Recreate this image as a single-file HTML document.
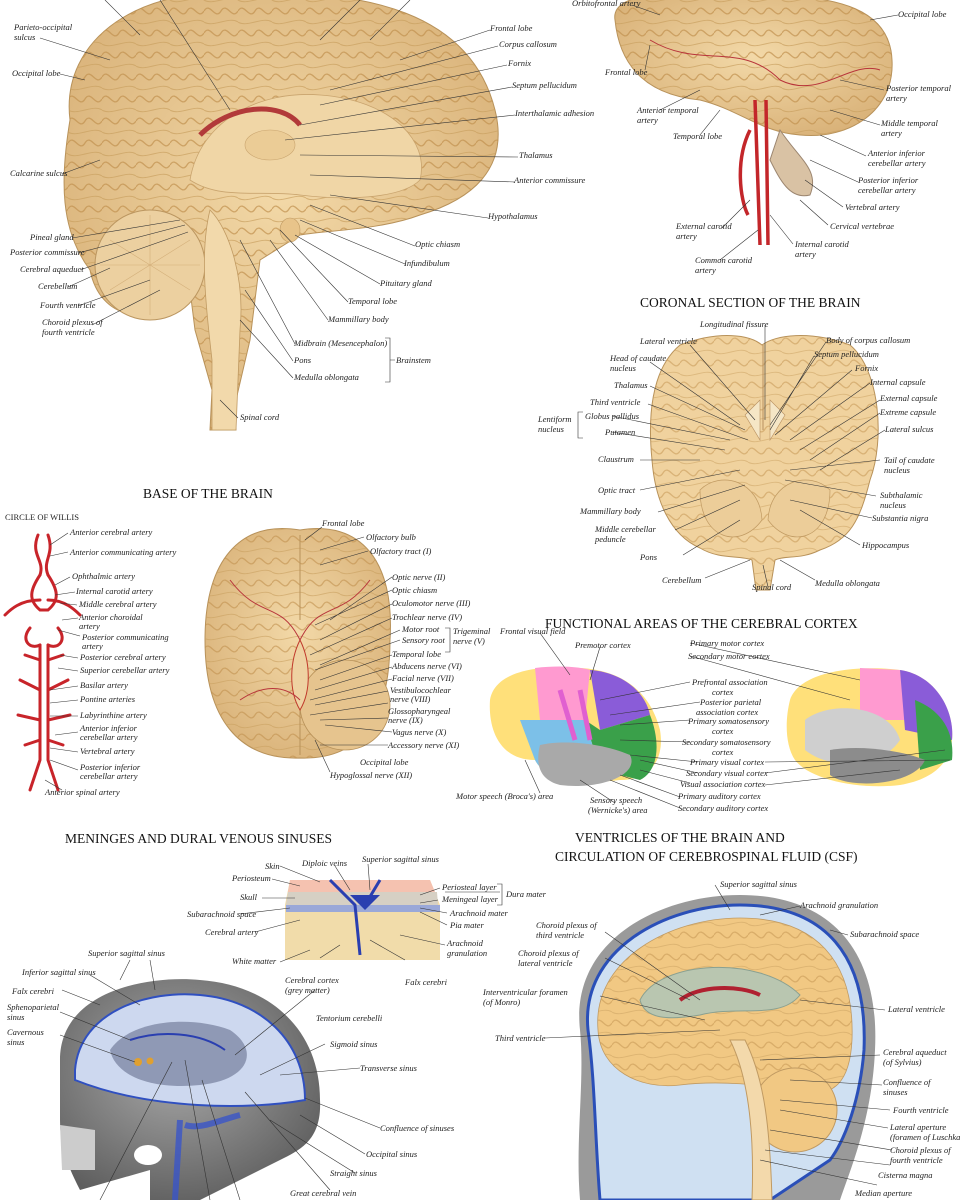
<!DOCTYPE html>
<html><head><meta charset="utf-8">
<style>
html,body{margin:0;padding:0;background:#fff}
svg{display:block}
.l{font-family:"Liberation Serif",serif;font-style:italic;font-size:8.5px;fill:#222}
.h{font-family:"Liberation Serif",serif;font-size:13.5px;fill:#111}
.ln{stroke:#333;stroke-width:0.6;fill:none}
</style></head><body>
<svg width="960" height="1200" viewBox="0 0 960 1200" xmlns="http://www.w3.org/2000/svg">
<rect width="960" height="1200" fill="#fff"/>
<defs>
<radialGradient id="tan" cx="50%" cy="45%" r="60%"><stop offset="0" stop-color="#f3d9a8"/><stop offset="1" stop-color="#d9b279"/></radialGradient>
<radialGradient id="gr" cx="45%" cy="40%" r="65%"><stop offset="0" stop-color="#a9a9a9"/><stop offset="1" stop-color="#5e5e5e"/></radialGradient>
<pattern id="gy" width="34" height="22" patternUnits="userSpaceOnUse">
<path d="M0,11 C6,1 11,21 17,11 C23,1 28,21 34,11" stroke="#c1914f" stroke-width="1.3" fill="none"/>
<path d="M0,0 C9,6 25,-6 34,0 M0,22 C9,28 25,16 34,22" stroke="#c9a060" stroke-width="1" fill="none"/>
</pattern>
</defs>

<!-- ===== Sagittal brain top-left ===== -->
<path d="M70,120 C60,40 140,-20 260,-5 C360,-10 470,10 495,110 C510,170 470,200 420,215 C380,230 330,230 300,235 L260,260 L250,340 L236,400 L236,430 L210,430 L212,390 L195,330 L190,290 C150,330 100,320 90,270 C60,230 60,180 70,120 Z" fill="url(#tan)" stroke="#b8925a" stroke-width="1"/>
<path d="M70,120 C60,40 140,-20 260,-5 C360,-10 470,10 495,110 C510,170 470,200 420,215 C380,230 330,230 300,235 L260,260 L250,340 L236,400 L236,430 L210,430 L212,390 L195,330 L190,290 C150,330 100,320 90,270 C60,230 60,180 70,120 Z" fill="url(#gy)" opacity="0.7"/>
<path d="M190,180 C200,120 260,90 320,95 C390,100 430,140 420,180 C400,200 340,200 300,195 C260,190 220,200 190,180Z" fill="#f0d6a6" stroke="#c9a46e" stroke-width="0.8"/>
<path d="M200,135 C230,105 280,100 300,125" stroke="#b23a3a" stroke-width="5" fill="none"/>
<ellipse cx="270" cy="145" rx="25" ry="15" fill="#ebcc96" stroke="#c9a46e" stroke-width="0.6"/>
<circle cx="150" cy="265" r="55" fill="#ecd0a0" stroke="#bb9660" stroke-width="1"/>
<path d="M100,265 L200,265 M110,240 L190,290 M110,290 L190,240 M150,215 L150,315" stroke="#d4b07b" stroke-width="0.6"/>
<path d="M210,210 C230,230 245,280 240,330 L236,430 L212,430 L212,360 C205,300 200,250 210,210Z" fill="#f2d9ab" stroke="#c09a62" stroke-width="0.8"/>
<ellipse cx="290" cy="230" rx="10" ry="12" fill="#e8c48a" stroke="#c09a62" stroke-width="0.6"/>
<g class="ln">
<path d="M105,0 L140,35 M160,0 L230,110 M360,0 L320,40 M410,0 L370,40"/>
<path d="M490,30 L400,60 M498,46 L330,90 M507,65 L320,105 M512,87 L300,125 M515,115 L285,140 M518,157 L300,155 M515,182 L310,175 M488,218 L330,195 M415,246 L310,205 M405,264 L300,220 M380,284 L295,235 M348,302 L280,230 M328,320 L270,240 M295,344 L240,240 M293,361 L245,290 M293,378 L240,320 M238,418 L220,400"/>
<path d="M385,338 L390,338 L390,382 L385,382 M390,360 L395,360"/>
<path d="M40,38 L110,60 M60,74 L85,80 M62,174 L100,160 M72,238 L180,220 M78,253 L185,225 M80,270 L188,232 M68,287 L110,268 M78,306 L150,280 M92,325 L160,290"/>
</g>
<text class="l" x="14" y="30">Parieto-occipital</text><text class="l" x="14" y="40">sulcus</text>
<text class="l" x="12" y="76">Occipital lobe</text>
<text class="l" x="10" y="176">Calcarine sulcus</text>
<text class="l" x="30" y="240">Pineal gland</text>
<text class="l" x="10" y="255">Posterior commissure</text>
<text class="l" x="20" y="272">Cerebral aqueduct</text>
<text class="l" x="38" y="289">Cerebellum</text>
<text class="l" x="40" y="308">Fourth ventricle</text>
<text class="l" x="42" y="325">Choroid plexus of</text><text class="l" x="42" y="335">fourth ventricle</text>
<text class="l" x="490" y="31">Frontal lobe</text>
<text class="l" x="499" y="47">Corpus callosum</text>
<text class="l" x="508" y="66">Fornix</text>
<text class="l" x="512" y="88">Septum pellucidum</text>
<text class="l" x="515" y="116">Interthalamic adhesion</text>
<text class="l" x="519" y="158">Thalamus</text>
<text class="l" x="514" y="183">Anterior commissure</text>
<text class="l" x="488" y="219">Hypothalamus</text>
<text class="l" x="415" y="247">Optic chiasm</text>
<text class="l" x="404" y="266">Infundibulum</text>
<text class="l" x="380" y="286">Pituitary gland</text>
<text class="l" x="348" y="304">Temporal lobe</text>
<text class="l" x="328" y="322">Mammillary body</text>
<text class="l" x="294" y="346">Midbrain (Mesencephalon)</text>
<text class="l" x="294" y="363">Pons</text>
<text class="l" x="294" y="380">Medulla oblongata</text>
<text class="l" x="396" y="363">Brainstem</text>
<text class="l" x="240" y="420">Spinal cord</text>

<!-- ===== Lateral brain top-right ===== -->
<path d="M615,20 C610,-10 680,-10 760,-5 C840,-5 890,10 892,60 C895,110 850,140 800,135 C760,132 740,110 700,100 C650,95 620,70 615,20Z" fill="url(#tan)" stroke="#b8925a"/>
<path d="M615,20 C610,-10 680,-10 760,-5 C840,-5 890,10 892,60 C895,110 850,140 800,135 C760,132 740,110 700,100 C650,95 620,70 615,20Z" fill="url(#gy)" opacity="0.7"/>
<path d="M780,130 C800,160 820,170 810,195 C790,200 780,180 770,160Z" fill="#d9c2a4" stroke="#9c8670"/>
<path d="M755,100 L760,245 M766,100 L768,245 M750,130 C735,160 740,200 748,215" stroke="#c3262a" stroke-width="3.5" fill="none"/>
<path d="M650,40 C700,70 740,40 780,80 C820,100 850,60 880,70" stroke="#b8343a" stroke-width="1" fill="none"/>
<g class="ln">
<path d="M632,5 L660,15 M645,70 L650,45 M660,110 L700,90 M700,135 L720,110 M898,15 L870,20 M884,90 L840,80 M880,125 L830,110 M866,156 L820,135 M858,182 L810,160 M843,207 L805,180 M828,225 L800,200 M793,244 L770,215 M722,228 L750,200 M720,260 L758,230"/>
</g>
<text class="l" x="572" y="6">Orbitofrontal artery</text>
<text class="l" x="605" y="75">Frontal lobe</text>
<text class="l" x="637" y="113">Anterior temporal</text><text class="l" x="637" y="123">artery</text>
<text class="l" x="673" y="139">Temporal lobe</text>
<text class="l" x="898" y="17">Occipital lobe</text>
<text class="l" x="886" y="91">Posterior temporal</text><text class="l" x="886" y="101">artery</text>
<text class="l" x="881" y="126">Middle temporal</text><text class="l" x="881" y="136">artery</text>
<text class="l" x="868" y="156">Anterior inferior</text><text class="l" x="868" y="166">cerebellar artery</text>
<text class="l" x="858" y="183">Posterior inferior</text><text class="l" x="858" y="193">cerebellar artery</text>
<text class="l" x="845" y="210">Vertebral artery</text>
<text class="l" x="830" y="229">Cervical vertebrae</text>
<text class="l" x="795" y="247">Internal carotid</text><text class="l" x="795" y="257">artery</text>
<text class="l" x="676" y="229">External carotid</text><text class="l" x="676" y="239">artery</text>
<text class="l" x="695" y="263">Common carotid</text><text class="l" x="695" y="273">artery</text>

<!-- ===== Coronal section ===== -->
<text class="h" x="640" y="307">CORONAL SECTION OF THE BRAIN</text>
<path d="M680,345 C720,330 750,335 762,345 C775,335 810,330 850,345 C880,370 885,440 870,480 C860,520 850,540 820,550 C800,560 785,555 775,560 L770,590 L756,590 L752,560 C740,555 720,560 700,548 C670,535 655,500 652,460 C648,420 650,370 680,345Z" fill="#f0d29e" stroke="#b8925a"/>
<path d="M680,345 C720,330 750,335 762,345 C775,335 810,330 850,345 C880,370 885,440 870,480 C860,520 850,540 820,550 C800,560 785,555 775,560 L770,590 L756,590 L752,560 C740,555 720,560 700,548 C670,535 655,500 652,460 C648,420 650,370 680,345Z" fill="url(#gy)" opacity="0.5"/>
<path d="M700,490 C720,470 760,480 762,520 C740,550 700,540 700,490Z M830,490 C810,470 770,480 768,520 C790,550 830,540 830,490Z" fill="#eccd99" stroke="#c09a62" stroke-width="0.7"/>
<path d="M763,345 L763,430" stroke="#b89060" stroke-width="1"/>
<path d="M745,415 L760,400 L760,440 Z M785,415 L770,400 L770,440 Z" fill="#f5e6c6" stroke="#b89060" stroke-width="0.6"/>
<g class="ln">
<path d="M690,345 L755,420 M650,362 L740,425 M650,386 L745,430 M648,404 L748,440 M612,416 L730,440 M612,432 L725,450 M640,460 L700,460 M640,490 L740,470 M658,512 L745,485 M675,530 L740,500 M683,555 L740,520 M705,578 L750,560 M768,587 L763,565"/>
<path d="M765,325 L765,420 M826,342 L770,425 M814,356 L770,430 M852,370 L775,435 M870,383 L790,440 M880,400 L800,450 M880,413 L810,460 M885,430 L820,470 M880,460 L790,470 M876,496 L785,480 M872,518 L790,500 M860,545 L800,510 M815,580 L780,560"/>
<path d="M583,412 L578,412 L578,438 L583,438"/>
</g>
<text class="l" x="700" y="327">Longitudinal fissure</text>
<text class="l" x="640" y="344">Lateral ventricle</text>
<text class="l" x="610" y="361">Head of caudate</text><text class="l" x="610" y="371">nucleus</text>
<text class="l" x="614" y="388">Thalamus</text>
<text class="l" x="590" y="405">Third ventricle</text>
<text class="l" x="585" y="419">Globus pallidus</text>
<text class="l" x="605" y="435">Putamen</text>
<text class="l" x="538" y="422">Lentiform</text><text class="l" x="538" y="432">nucleus</text>
<text class="l" x="598" y="462">Claustrum</text>
<text class="l" x="598" y="493">Optic tract</text>
<text class="l" x="580" y="514">Mammillary body</text>
<text class="l" x="595" y="532">Middle cerebellar</text><text class="l" x="595" y="542">peduncle</text>
<text class="l" x="640" y="560">Pons</text>
<text class="l" x="662" y="583">Cerebellum</text>
<text class="l" x="752" y="590">Spinal cord</text>
<text class="l" x="826" y="343">Body of corpus callosum</text>
<text class="l" x="814" y="357">Septum pellucidum</text>
<text class="l" x="855" y="371">Fornix</text>
<text class="l" x="870" y="385">Internal capsule</text>
<text class="l" x="880" y="401">External capsule</text>
<text class="l" x="880" y="415">Extreme capsule</text>
<text class="l" x="885" y="432">Lateral sulcus</text>
<text class="l" x="884" y="463">Tail of caudate</text><text class="l" x="884" y="473">nucleus</text>
<text class="l" x="880" y="498">Subthalamic</text><text class="l" x="880" y="508">nucleus</text>
<text class="l" x="872" y="521">Substantia nigra</text>
<text class="l" x="862" y="548">Hippocampus</text>
<text class="l" x="815" y="586">Medulla oblongata</text>

<!-- ===== Base of brain ===== -->
<text class="h" x="143" y="498">BASE OF THE BRAIN</text>
<text class="l" x="5" y="520" style="font-style:normal">CIRCLE OF WILLIS</text>
<path d="M300,530 C360,520 395,560 390,640 C390,720 360,760 300,758 C240,760 205,720 205,640 C205,560 240,520 300,530Z" fill="url(#tan)" stroke="#b8925a"/>
<path d="M300,530 C360,520 395,560 390,640 C390,720 360,760 300,758 C240,760 205,720 205,640 C205,560 240,520 300,530Z" fill="url(#gy)" opacity="0.6"/>
<circle cx="345" cy="705" r="45" fill="#e6c48e" stroke="#b8925a" stroke-width="0.8"/>
<path d="M300,535 L300,620 M300,640 L300,755" stroke="#b8925a" stroke-width="1"/>
<path d="M300,640 C290,660 288,690 300,710 C312,690 310,660 300,640Z" fill="#eed2a2" stroke="#c0392b" stroke-width="1"/>
<path d="M230,580 C260,620 280,600 300,640 C320,600 340,620 370,580 M240,700 C270,680 290,690 300,700" stroke="#b8343a" stroke-width="1" fill="none"/>
<g class="ln">
<path d="M322,527 L305,540 M364,537 L320,550 M368,551 L320,565 M392,577 L330,620 M392,590 L315,625 M392,604 L320,640 M392,618 L310,655 M400,630 L320,665 M400,640 L315,670 M392,655 L320,680 M392,667 L315,690 M392,679 L310,700 M388,691 L315,705 M388,703 L310,715 M388,718 L320,720 M392,732 L325,725 M388,745 L320,745 M330,772 L315,740 M445,628 L450,628 L450,652 L445,652"/>
</g>
<text class="l" x="322" y="526">Frontal lobe</text>
<text class="l" x="366" y="540">Olfactory bulb</text>
<text class="l" x="370" y="554">Olfactory tract (I)</text>
<text class="l" x="392" y="580">Optic nerve (II)</text>
<text class="l" x="392" y="593">Optic chiasm</text>
<text class="l" x="392" y="606">Oculomotor nerve (III)</text>
<text class="l" x="392" y="620">Trochlear nerve (IV)</text>
<text class="l" x="402" y="632">Motor root</text>
<text class="l" x="402" y="643">Sensory root</text>
<text class="l" x="453" y="634">Trigeminal</text><text class="l" x="453" y="644">nerve (V)</text>
<text class="l" x="392" y="657">Temporal lobe</text>
<text class="l" x="392" y="669">Abducens nerve (VI)</text>
<text class="l" x="392" y="681">Facial nerve (VII)</text>
<text class="l" x="390" y="693">Vestibulocochlear</text><text class="l" x="390" y="702">nerve (VIII)</text>
<text class="l" x="388" y="714">Glossopharyngeal</text><text class="l" x="388" y="723">nerve (IX)</text>
<text class="l" x="392" y="735">Vagus nerve (X)</text>
<text class="l" x="388" y="748">Accessory nerve (XI)</text>
<text class="l" x="360" y="765">Occipital lobe</text>
<text class="l" x="330" y="778">Hypoglossal nerve (XII)</text>

<!-- Circle of Willis -->
<g stroke="#c8242a" stroke-width="3" fill="none" stroke-linecap="round">
<path d="M38,535 C30,555 45,560 40,575 M48,535 C55,555 42,560 48,575"/>
<path d="M40,575 C30,590 28,600 40,610 L48,610 C60,600 58,590 48,575"/>
<path d="M40,600 C20,600 10,610 5,615 M48,600 C65,600 75,610 80,615"/>
<path d="M30,628 C20,640 30,650 40,645 M58,628 C68,640 58,650 48,645"/>
<path d="M40,645 L40,760 M48,645 L48,760 M40,760 L30,790 M48,760 L58,790"/>
<path d="M40,690 L20,680 M48,690 L68,680 M40,720 L18,715 M48,720 L70,715 M40,740 L25,745 M48,740 L63,745 M40,660 L25,655 M48,660 L63,655"/>
</g>
<g class="ln">
<path d="M68,533 L50,545 M68,552 L50,556 M70,577 L55,585 M75,592 L55,595 M77,605 L60,603 M78,618 L62,620 M80,636 L58,630 M78,658 L60,655 M78,671 L58,668 M78,686 L50,690 M78,700 L50,703 M78,716 L50,716 M78,732 L55,735 M78,752 L50,748 M78,770 L50,760 M62,790 L45,780"/>
</g>
<text class="l" x="70" y="535">Anterior cerebral artery</text>
<text class="l" x="70" y="555">Anterior communicating artery</text>
<text class="l" x="72" y="579">Ophthalmic artery</text>
<text class="l" x="76" y="594">Internal carotid artery</text>
<text class="l" x="79" y="607">Middle cerebral artery</text>
<text class="l" x="79" y="620">Anterior choroidal</text><text class="l" x="79" y="629">artery</text>
<text class="l" x="82" y="640">Posterior communicating</text><text class="l" x="82" y="649">artery</text>
<text class="l" x="80" y="660">Posterior cerebral artery</text>
<text class="l" x="80" y="673">Superior cerebellar artery</text>
<text class="l" x="80" y="688">Basilar artery</text>
<text class="l" x="80" y="702">Pontine arteries</text>
<text class="l" x="80" y="718">Labyrinthine artery</text>
<text class="l" x="80" y="731">Anterior inferior</text><text class="l" x="80" y="740">cerebellar artery</text>
<text class="l" x="80" y="754">Vertebral artery</text>
<text class="l" x="80" y="770">Posterior inferior</text><text class="l" x="80" y="779">cerebellar artery</text>
<text class="l" x="45" y="795">Anterior spinal artery</text>

<!-- ===== Functional areas ===== -->
<text class="h" x="545" y="628">FUNCTIONAL AREAS OF THE CEREBRAL CORTEX</text>
<path d="M490,700 C495,670 540,665 580,668 C620,670 650,690 660,730 C665,760 650,780 620,780 C580,785 545,780 535,760 C500,760 488,730 490,700Z" fill="#ffe07a"/>
<path d="M535,668 C560,665 580,667 590,670 L585,720 L540,720Z" fill="#ff9ad0"/>
<path d="M590,670 C620,672 645,690 650,715 L600,730 Z" fill="#8a5cd8"/>
<path d="M585,720 L600,730 L650,715 C660,740 660,770 640,780 L600,770 Z" fill="#3aa04a"/>
<path d="M520,720 L585,720 L600,770 C580,785 545,780 535,760 Z" fill="#7cc0e8"/>
<path d="M540,745 C560,740 600,742 630,755 C640,775 600,790 560,785 C540,780 535,765 540,745Z" fill="#a9a9a9"/>
<path d="M560,690 L575,740 M580,690 L590,740" stroke="#e060d0" stroke-width="5"/>
<path d="M790,700 C800,670 860,665 900,670 C935,675 955,710 952,740 C950,765 930,780 900,785 C860,790 810,780 795,760 C785,745 785,720 790,700Z" fill="#ffe07a"/>
<path d="M860,668 L900,670 L905,720 L860,720Z" fill="#ff9ad0"/>
<path d="M900,670 C935,675 955,710 952,740 L905,730Z" fill="#8a5cd8"/>
<path d="M915,700 C940,710 955,730 952,760 L920,770 Z" fill="#3aa04a"/>
<path d="M805,720 C830,700 890,705 900,740 C880,770 830,770 805,750Z" fill="#cfcfcf"/>
<path d="M830,750 C860,745 900,750 925,760 C915,785 850,790 830,775Z" fill="#8c8c8c"/>
<g class="ln">
<path d="M540,633 L570,675 M600,647 L590,680 M690,643 L860,680 M690,656 L850,700 M690,682 L600,700 M700,702 L610,715 M690,720 L620,725 M690,742 L620,740 M698,762 L630,755 M698,773 L640,760 M690,783 L640,770 M680,797 L620,775 M680,808 L610,780 M615,803 L580,780 M540,793 L525,760 M765,762 L950,760 M765,773 L945,750 M765,785 L900,770"/>
</g>
<text class="l" x="575" y="648">Premotor cortex</text>
<text class="l" x="500" y="634">Frontal visual field</text>
<text class="l" x="690" y="646">Primary motor cortex</text>
<text class="l" x="688" y="659">Secondary motor cortex</text>
<text class="l" x="692" y="685">Prefrontal association</text><text class="l" x="712" y="695">cortex</text>
<text class="l" x="700" y="705">Posterior parietal</text><text class="l" x="696" y="715">association cortex</text>
<text class="l" x="688" y="724">Primary somatosensory</text><text class="l" x="712" y="734">cortex</text>
<text class="l" x="682" y="745">Secondary somatosensory</text><text class="l" x="712" y="755">cortex</text>
<text class="l" x="690" y="765">Primary visual cortex</text>
<text class="l" x="686" y="776">Secondary visual cortex</text>
<text class="l" x="680" y="787">Visual association cortex</text>
<text class="l" x="678" y="799">Primary auditory cortex</text>
<text class="l" x="678" y="811">Secondary auditory cortex</text>
<text class="l" x="590" y="803">Sensory speech</text><text class="l" x="588" y="813">(Wernicke's) area</text>
<text class="l" x="456" y="799">Motor speech (Broca's) area</text>

<!-- ===== Meninges ===== -->
<text class="h" x="65" y="843">MENINGES AND DURAL VENOUS SINUSES</text>
<path d="M290,880 L430,880 L440,905 L440,960 L285,960 L285,905Z" fill="#f1dcaa"/>
<path d="M290,880 L430,880 L435,892 L288,892Z" fill="#f5c2b0"/>
<path d="M288,892 L437,892 L438,905 L286,905Z" fill="#d6d0c4"/>
<path d="M286,905 L440,905 L440,912 L286,912Z" fill="#9aa8d8"/>
<path d="M330,880 L355,905 L360,955 M380,880 L365,905" stroke="#2a3fb0" stroke-width="3" fill="none"/>
<path d="M350,895 L380,895 L365,910Z" fill="#2a3fb0"/>
<g class="ln">
<path d="M280,866 L320,882 M272,879 L300,886 M262,898 L295,898 M240,914 L290,908 M255,932 L300,920 M280,962 L310,950 M320,958 L340,945 M335,866 L350,890 M368,864 L370,890 M440,888 L420,895 M438,900 L420,903 M447,913 L420,908 M447,925 L420,912 M445,945 L400,935 M405,960 L370,940 M445,892 L500,892"/>
<path d="M497,884 L502,884 L502,905 L497,905"/>
</g>
<text class="l" x="265" y="869">Skin</text>
<text class="l" x="232" y="881">Periosteum</text>
<text class="l" x="240" y="900">Skull</text>
<text class="l" x="187" y="917">Subarachnoid space</text>
<text class="l" x="205" y="935">Cerebral artery</text>
<text class="l" x="232" y="964">White matter</text>
<text class="l" x="285" y="983">Cerebral cortex</text><text class="l" x="285" y="993">(grey matter)</text>
<text class="l" x="405" y="985">Falx cerebri</text>
<text class="l" x="302" y="866">Diploic veins</text>
<text class="l" x="362" y="862">Superior sagittal sinus</text>
<text class="l" x="442" y="890">Periosteal layer</text>
<text class="l" x="442" y="902">Meningeal layer</text>
<text class="l" x="506" y="897">Dura mater</text>
<text class="l" x="450" y="916">Arachnoid mater</text>
<text class="l" x="450" y="928">Pia mater</text>
<text class="l" x="447" y="946">Arachnoid</text><text class="l" x="447" y="956">granulation</text>

<!-- skull -->
<path d="M60,1060 C60,990 150,975 200,980 C270,985 320,1030 320,1100 C322,1140 300,1150 280,1160 L240,1180 L200,1200 L150,1200 L150,1170 L80,1190 C70,1170 60,1150 60,1120 Z" fill="url(#gr)"/>
<path d="M75,1070 C80,1010 150,990 200,995 C260,1000 305,1040 305,1100 C250,1110 150,1110 75,1080Z" fill="#cdd8ef" stroke="#3050c0" stroke-width="2"/>
<path d="M110,1050 C130,1020 190,1015 230,1030 C260,1050 250,1080 200,1085 C150,1090 115,1075 110,1050Z" fill="#8f99b5"/>
<path d="M130,1040 C160,1030 200,1032 225,1050" stroke="#2a3fb0" stroke-width="2" fill="none"/>
<path d="M180,1120 L175,1200 M185,1125 C200,1130 220,1120 240,1115" stroke="#3a55c8" stroke-width="6" fill="none" opacity="0.8"/>
<ellipse cx="148" cy="1155" rx="14" ry="10" fill="#fff"/>
<path d="M60,1125 L95,1130 L95,1170 L62,1170Z" fill="#ccc"/>
<circle cx="138" cy="1062" r="4" fill="#e0a030"/><circle cx="150" cy="1061" r="3.5" fill="#e0a030"/>
<g class="ln">
<path d="M90,975 L140,1005 M62,990 L100,1005 M60,1012 L130,1040 M60,1035 L135,1062 M150,960 L155,990 M130,960 L120,980 M315,990 L235,1055 M325,1044 L260,1075 M360,1068 L280,1075 M380,1128 L305,1098 M365,1154 L300,1115 M355,1173 L270,1120 M330,1190 L245,1092 M172,1062 L100,1200 M185,1060 L210,1200 M202,1080 L240,1200"/>
</g>
<text class="l" x="88" y="956">Superior sagittal sinus</text>
<text class="l" x="22" y="975">Inferior sagittal sinus</text>
<text class="l" x="12" y="994">Falx cerebri</text>
<text class="l" x="7" y="1010">Sphenoparietal</text><text class="l" x="7" y="1020">sinus</text>
<text class="l" x="7" y="1035">Cavernous</text><text class="l" x="7" y="1045">sinus</text>
<text class="l" x="316" y="1021">Tentorium cerebelli</text>
<text class="l" x="330" y="1047">Sigmoid sinus</text>
<text class="l" x="360" y="1071">Transverse sinus</text>
<text class="l" x="380" y="1131">Confluence of sinuses</text>
<text class="l" x="366" y="1157">Occipital sinus</text>
<text class="l" x="330" y="1176">Straight sinus</text>
<text class="l" x="290" y="1196">Great cerebral vein</text>

<!-- ===== Ventricles ===== -->
<text class="h" x="575" y="842">VENTRICLES OF THE BRAIN AND</text>
<text class="h" x="555" y="861">CIRCULATION OF CEREBROSPINAL FLUID (CSF)</text>
<path d="M580,1030 C570,940 660,895 740,895 C830,895 880,950 875,1050 C872,1120 850,1170 840,1200 L580,1200 C575,1140 585,1080 580,1030Z" fill="#9a9a9a"/>
<path d="M588,1030 C580,950 665,905 740,905 C825,905 868,955 864,1050 C860,1100 845,1140 830,1160 L770,1200 L600,1200 C595,1140 595,1080 588,1030Z" fill="#cfe0f2" stroke="#2a4fb8" stroke-width="3"/>
<path d="M598,1030 C592,960 670,918 740,918 C815,918 855,960 852,1040 C850,1080 835,1100 800,1090 C760,1085 720,1080 680,1085 C640,1090 600,1070 598,1030Z" fill="#f1c883" stroke="#c09a62" stroke-width="0.8"/>
<path d="M598,1030 C592,960 670,918 740,918 C815,918 855,960 852,1040 C850,1080 835,1100 800,1090 C760,1085 720,1080 680,1085 C640,1090 600,1070 598,1030Z" fill="url(#gy)" opacity="0.5"/>
<path d="M640,1000 C660,960 760,955 800,995 C780,1020 740,1005 700,1015 C670,1020 645,1020 640,1000Z" fill="#b9c6b0" stroke="#8aa090"/>
<path d="M680,1000 C700,985 740,985 760,995" stroke="#b02030" stroke-width="4" fill="none"/>
<circle cx="795" cy="1110" r="42" fill="#f1c883" stroke="#c09a62"/>
<path d="M730,1040 C745,1070 755,1120 752,1200 L772,1200 C770,1130 765,1080 745,1040Z" fill="#f3d9ab" stroke="#c09a62"/>
<g class="ln">
<path d="M715,885 L730,910 M800,906 L760,915 M848,935 L830,930 M885,1010 L800,1000 M880,1055 L760,1060 M882,1085 L790,1080 M890,1110 L780,1100 M888,1128 L780,1110 M892,1150 L770,1130 M890,1165 L765,1150 M877,1185 L760,1160 M605,932 L700,1000 M605,958 L690,1000 M600,996 L705,1020 M545,1038 L720,1030"/>
</g>
<text class="l" x="720" y="887">Superior sagittal sinus</text>
<text class="l" x="800" y="908">Arachnoid granulation</text>
<text class="l" x="850" y="937">Subarachnoid space</text>
<text class="l" x="888" y="1012">Lateral ventricle</text>
<text class="l" x="883" y="1055">Cerebral aqueduct</text><text class="l" x="883" y="1065">(of Sylvius)</text>
<text class="l" x="883" y="1085">Confluence of</text><text class="l" x="883" y="1095">sinuses</text>
<text class="l" x="893" y="1113">Fourth ventricle</text>
<text class="l" x="890" y="1130">Lateral aperture</text><text class="l" x="890" y="1140">(foramen of Luschka)</text>
<text class="l" x="890" y="1153">Choroid plexus of</text><text class="l" x="890" y="1163">fourth ventricle</text>
<text class="l" x="878" y="1178">Cisterna magna</text>
<text class="l" x="855" y="1196">Median aperture</text>
<text class="l" x="536" y="928">Choroid plexus of</text><text class="l" x="536" y="938">third ventricle</text>
<text class="l" x="518" y="956">Choroid plexus of</text><text class="l" x="518" y="966">lateral ventricle</text>
<text class="l" x="483" y="995">Interventricular foramen</text><text class="l" x="483" y="1005">(of Monro)</text>
<text class="l" x="495" y="1041">Third ventricle</text>
</svg>
</body></html>
